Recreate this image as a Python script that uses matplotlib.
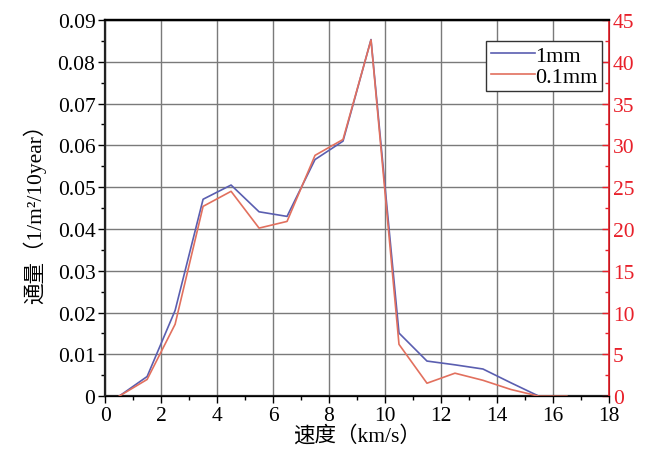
import numpy as np
import matplotlib
matplotlib.use("Agg")
import matplotlib.pyplot as plt
from matplotlib.ticker import MultipleLocator

plt.rcParams['font.family'] = ['Liberation Serif', 'Noto Sans CJK SC']

# 速度 (km/s) bin centres
speed = [0.5, 1.5, 2.5, 3.5, 4.5, 5.5, 6.5, 7.5, 8.5, 9.5, 10.5, 11.5, 12.5, 13.5, 14.5, 15.5, 16.5]
# 1mm flux, left axis
flux_1mm = [0.0, 0.0047, 0.0205, 0.0471, 0.0505, 0.0441, 0.0430, 0.0566, 0.0610, 0.0853,
            0.0151, 0.0084, 0.0075, 0.0065, 0.0032, 0.0, 0.0]
# 0.1mm flux, right axis
flux_01mm = [0.0, 2.0, 8.6, 22.7, 24.5, 20.1, 20.9, 28.8, 30.7, 42.6,
             6.2, 1.55, 2.75, 1.9, 0.8, 0.0, 0.0]

blue = '#5a5eb0'
red = '#e2705e'

fig = plt.figure(figsize=(6.45, 4.64), dpi=100)
ax = fig.add_axes([0.163, 0.144, 0.781, 0.811])
ax2 = ax.twinx()

l1, = ax.plot(speed, flux_1mm, color=blue, lw=1.2, label='1mm')
l2, = ax2.plot(speed, flux_01mm, color=red, lw=1.2, label='0.1mm')

ax.set_xlim(0, 18)
ax.set_ylim(0, 0.09)
ax2.set_ylim(0, 45)

ax.xaxis.set_major_locator(MultipleLocator(2))
ax.xaxis.set_minor_locator(MultipleLocator(1))
ax.yaxis.set_minor_locator(MultipleLocator(0.005))
ax2.yaxis.set_major_locator(MultipleLocator(5))
ax2.yaxis.set_minor_locator(MultipleLocator(2.5))

ax.set_yticks(np.arange(0, 0.0901, 0.01))
ax.set_yticklabels(['0'] + ['%.2f' % v for v in np.arange(0.01, 0.0901, 0.01)])

ax.grid(True, which='major', color='#7a7a7a', lw=1.0)
ax.set_axisbelow(True)

ax.tick_params(axis='both', which='major', direction='out', length=5, width=1, labelsize=15.5, pad=2)
ax.tick_params(axis='both', which='minor', direction='out', length=3, width=1)
ax2.tick_params(axis='y', which='major', direction='in', length=5, width=1,
                colors='#e8202a', labelsize=15.5, pad=3)
ax2.tick_params(axis='y', which='minor', direction='in', length=3, width=1, colors='#e8202a')

for s in ['left', 'bottom', 'top']:
    ax.spines[s].set_color('#222222')
    ax.spines[s].set_linewidth(1.6)
ax2.spines['top'].set_linewidth(1.6)
ax2.spines['right'].set_color('#e8202a')
ax2.spines['right'].set_linewidth(1.2)
ax2.spines['left'].set_visible(False)

ax.set_xlabel('速度（km/s）', fontsize=15.5, labelpad=0)
ax.set_ylabel('通量（1/m²/10year）', fontsize=15.5, labelpad=8)

leg = ax2.legend(handles=[l1, l2], loc='upper right', bbox_to_anchor=(0.995, 0.955),
                 fontsize=16, frameon=True, fancybox=False, edgecolor='#333333',
                 framealpha=1, borderpad=0.2, handlelength=2.0, handletextpad=0.0,
                 labelspacing=0.0, borderaxespad=0.2)
leg.get_frame().set_linewidth(1.0)

fig.savefig('out.png', dpi=100)
